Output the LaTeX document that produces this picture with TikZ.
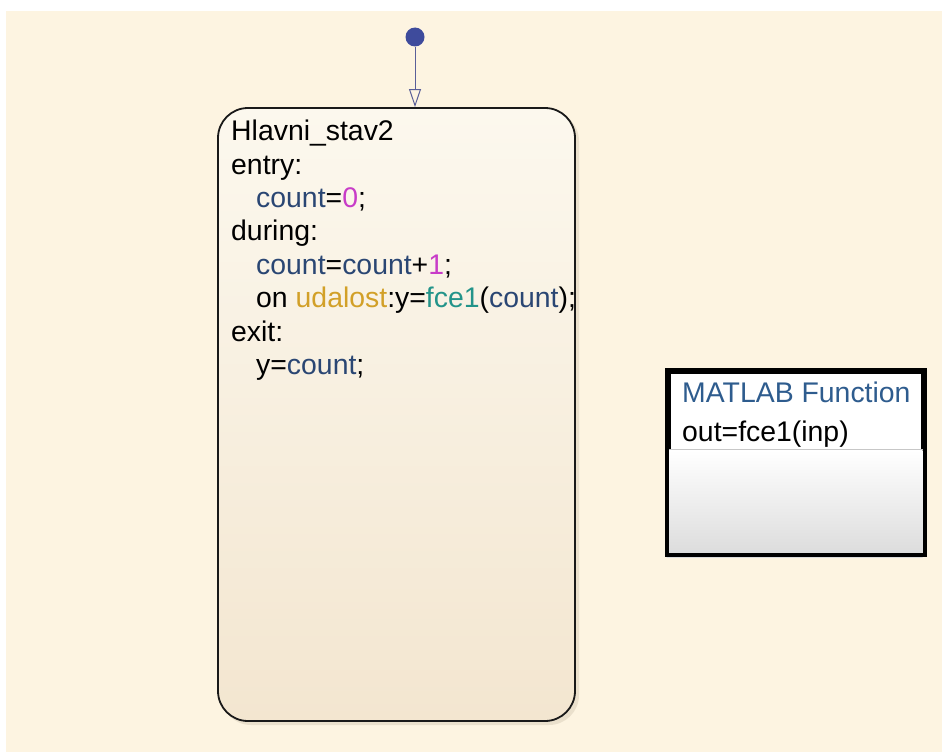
\documentclass[tikz,border=0pt]{standalone}
\usepackage{fontspec}
\setmainfont{Liberation Sans}
\usetikzlibrary{arrows.meta,positioning}
\definecolor{paper}{HTML}{FDF4E1}
\definecolor{statetop}{HTML}{FCF8EE}
\definecolor{statebot}{HTML}{F3E6D0}
\definecolor{cntblue}{HTML}{2A4673}
\definecolor{numpink}{HTML}{C83CC8}
\definecolor{evgold}{HTML}{D2A028}
\definecolor{fnteal}{HTML}{23948A}
\definecolor{hdrblue}{HTML}{2E5C8E}
\definecolor{wireblue}{HTML}{5A5F98}
\definecolor{dotblue}{HTML}{3E4B9C}
\newcommand{\cn}{\textcolor{cntblue}{count}}
\begin{document}
\begin{tikzpicture}[x=1pt,y=-1pt,
    statebox/.style={draw=black!90, line width=1.8pt, rounded corners=30pt, shading=axis, top color=statetop, bottom color=statebot},
    fnbox/.style={draw=black, line width=4pt, fill=white},
    code/.style={inner sep=0pt, align=left, font=\fontsize{28.4}{33.4}\selectfont}]
\fill[white] (0,0) rectangle (942,752);
\fill[paper] (6,11) rectangle (942,752);
% state with its shadow
\fill[black!60!brown, opacity=.10, rounded corners=30pt] (221,111) rectangle (579,725);
\node[statebox, minimum width=357pt, minimum height=613pt, inner sep=0pt] (stav) at (396.5,414.5) {};
\node[code, anchor=north west] (stavtext) at (231,120) {Hlavni\_stav2\\
entry:\\
\hspace*{25pt}\cn=\textcolor{numpink}{0};\\
during:\\
\hspace*{25pt}\cn=\cn+\textcolor{numpink}{1};\\
\hspace*{25pt}on \textcolor{evgold}{udalost}:y=\textcolor{fnteal}{fce1}(\cn);\\
exit:\\
\hspace*{25pt}y=\cn;};
% default transition
\node[circle, fill=dotblue, minimum size=19pt, inner sep=0pt] (init) at (415,37) {};
\draw[wireblue, line width=1pt, -{Triangle[open, length=18pt, width=12pt]}] (init) -- (init |- stav.north);
% matlab function block
\fill[black, opacity=.10] (672,376) rectangle (926,557);
\node[fnbox, minimum width=254pt, minimum height=181pt, inner sep=0pt] (fce) at (795.5,462.5) {};
\shade[top color=white, bottom color=black!14] (fce.west |- 0,450) rectangle ([xshift=-2pt,yshift=-2pt]fce.south east);
\draw[black!22, line width=1pt] ([xshift=2pt]fce.west |- 0,449) -- ([xshift=-2pt]fce.east |- 0,449);
\draw[black, line width=4pt] (fce.north west) rectangle (fce.south east);
\node[code, anchor=north west, text=hdrblue] (fcehdr) at (682,382) {MATLAB Function};
\node[code, below=17pt of fcehdr.south west, anchor=north west] (fcesig) {out=fce1(inp)};
\end{tikzpicture}
\end{document}
